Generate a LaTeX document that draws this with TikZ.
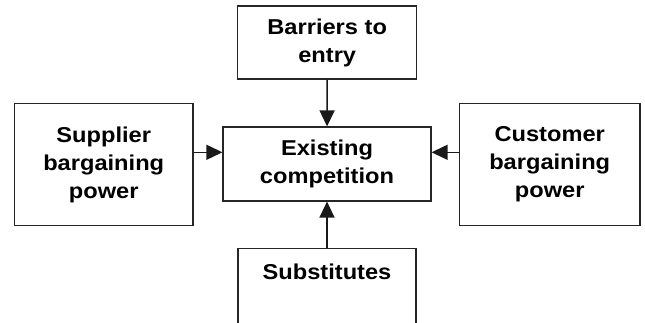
\documentclass[tikz,border=0pt]{standalone}
\usepackage{fontspec}
\setmainfont{Liberation Sans}[FakeStretch=1.1]
\usetikzlibrary{arrows.meta}
\begin{document}
\begin{tikzpicture}[x=1pt,y=1pt,
  box/.style={draw=black!85, line width=1.2pt, align=center, inner sep=0pt,
    font=\fontsize{21.5}{28}\selectfont\bfseries},
  conn/.style={line width=1.4pt, black!90, -{Triangle[length=16pt,width=15pt]}}]
\clip (0,0) rectangle (645,-322);
\fill[white] (0,0) rectangle (645,-322);
\node[box, minimum width=179, minimum height=73] (bar) at (327.2,-42.5) {Barriers to\\entry};
\node[box, minimum width=208, minimum height=74] (exi) at (327,-164) {Existing\\competition};
\node[box, minimum width=178.6, minimum height=122] (sup) at (103.7,-164.5) {Supplier\\bargaining\\power};
\node[box, minimum width=180.5, minimum height=122] (cus) at (549.7,-164.5) {Customer\\bargaining\\power};
\node[box, minimum width=178, minimum height=82] (sub) at (327,-289.5) {Substitutes\\\strut};
\draw[conn] (bar) -- (exi);
\draw[conn] (sub) -- (exi);
\draw[conn] (sup.east |- 0,-152.3) -- (exi.west |- 0,-152.3);
\draw[conn] (cus.west |- 0,-152.3) -- (exi.east |- 0,-152.3);
\end{tikzpicture}
\end{document}
